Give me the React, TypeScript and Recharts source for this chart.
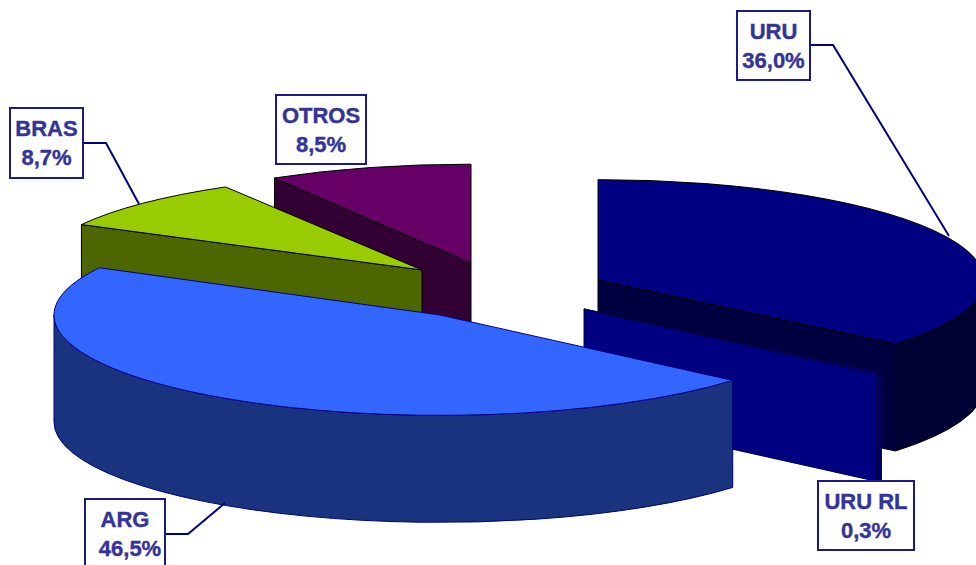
import React from "react";
import { PieChart, Pie } from "recharts";

const categories = ["URU", "URU RL", "ARG", "BRAS", "OTROS"];
const shares = [36.0, 0.3, 46.5, 8.7, 8.5];
const data = categories.map((name, i) => ({ name, value: shares[i] }));

// Back-to-front order in which the tilted slices are painted.
const paintOrder = ["OTROS", "BRAS", "URU", "URU RL", "ARG"];

const CX = 500;
const CY = 290;
const RADIUS = 386;
const DEPTH = 107;

const sliceStyles: Record<string, any> = {
  URU: { dx: 98, dy: -10, tilt: 0.26, top: "#000080", wall: "#000033", face: "#000040", line: "#000000" },
  "URU RL": { dx: 84, dy: 19, tilt: 0.26, top: "#000080", wall: "#000060", face: "#000080", line: "#000040" },
  ARG: { dx: -60, dy: 25, tilt: 0.26, top: "#3366FF", wall: "#19337F", face: "#19337F", line: "#000080" },
  BRAS: { dx: -78, dy: -20, tilt: 0.25, top: "#99CC00", wall: "#4D6600", face: "#4D6600", line: "#000000" },
  OTROS: { dx: -29, dy: -27, tilt: 0.256, top: "#660066", wall: "#330033", face: "#330033", line: "#000000" },
};

const labelStyles: Record<string, any> = {
  URU: { x: 737, y: 11, w: 73, h: 69, shift: 0, leader: "810,45 833,45 949,236" },
  "URU RL": { x: 818, y: 481, w: 96, h: 69, shift: 0, leader: "" },
  ARG: { x: 85, y: 499, w: 80, h: 69, shift: 5, leader: "165,534 188,534 225,503" },
  BRAS: { x: 10, y: 108, w: 73, h: 70, shift: 0, leader: "83,143 106,143 139,204" },
  OTROS: { x: 276, y: 95, w: 90, h: 69, shift: 0, leader: "" },
};

const rad = (d: number) => (d * Math.PI) / 180;

function Slice3D(props: any) {
  const { cx, cy, outerRadius, startAngle, endAngle, name } = props;
  const s = sliceStyles[name];
  const from = 90 - startAngle;
  const to = 90 - endAngle;
  const ox = cx + s.dx;
  const oy = cy + s.dy;
  const ry = outerRadius * s.tilt;
  const pt = (t: number, drop = 0) =>
    `${ox + outerRadius * Math.sin(rad(t))} ${oy - ry * Math.cos(rad(t)) + drop}`;
  const arc = (a: number, b: number, sweep: number, drop = 0) =>
    `A ${outerRadius} ${ry} 0 ${Math.abs(b - a) > 180 ? 1 : 0} ${sweep} ${pt(b, drop)}`;
  const face = (t: number) =>
    `M ${ox} ${oy} L ${pt(t)} L ${pt(t, DEPTH)} L ${ox} ${oy + DEPTH} Z`;

  const wallFrom = Math.max(from, 90);
  const wallTo = Math.min(to, 270);
  return (
    <g stroke={s.line} strokeWidth={1} strokeLinejoin="round">
      {wallFrom < wallTo && (
        <path
          d={`M ${pt(wallFrom)} ${arc(wallFrom, wallTo, 1)} L ${pt(wallTo, DEPTH)} ${arc(wallTo, wallFrom, 0, DEPTH)} Z`}
          fill={s.wall}
        />
      )}
      {Math.sin(rad(from)) < -0.001 && <path d={face(from)} fill={s.face} />}
      {Math.sin(rad(to)) > 0.001 && <path d={face(to)} fill={s.face} />}
      <path d={`M ${ox} ${oy} L ${pt(from)} ${arc(from, to, 1)} Z`} fill={s.top} />
    </g>
  );
}

function Callout(props: any) {
  const { name, value } = props;
  const b = labelStyles[name];
  const mid = b.x + b.w / 2;
  const pct = `${Number(value).toFixed(1).replace(".", ",")}%`;
  const text = {
    textAnchor: "middle" as const,
    fontFamily: "'Liberation Sans', Arial, sans-serif",
    fontWeight: 700,
    fontSize: 22,
    fill: "#333399",
    stroke: "#333399",
    strokeWidth: 0.4,
  };
  return (
    <g>
      {b.leader && <polyline points={b.leader} fill="none" stroke="#000080" strokeWidth={2} />}
      <rect x={b.x} y={b.y} width={b.w} height={b.h} fill="#FFFFFF" stroke="#1A1A8C" strokeWidth={2} />
      <text {...text} x={mid} y={b.y + 28}>{name}</text>
      <text {...text} x={mid + b.shift} y={b.y + 57}>{pct}</text>
    </g>
  );
}

const sliceShape = (layer: string) => (props: any) =>
  props.name === layer ? <Slice3D {...props} /> : <g />;

export default function App() {
  return (
    <div style={{ position: "absolute", left: 0, top: 0, width: 976, height: 565, overflow: "hidden", background: "#FFFFFF" }}>
      <PieChart width={976} height={565} margin={{ top: 0, right: 0, bottom: 0, left: 0 }}>
        {paintOrder.map((layer, i) => (
          <Pie
            key={layer}
            data={data}
            dataKey="value"
            nameKey="name"
            cx={CX}
            cy={CY}
            innerRadius={0}
            outerRadius={RADIUS}
            startAngle={90}
            endAngle={-270}
            stroke="none"
            shape={sliceShape(layer)}
            label={i === paintOrder.length - 1 ? (p: any) => <Callout {...p} /> : false}
            labelLine={false}
            isAnimationActive={false}
          />
        ))}
      </PieChart>
    </div>
  );
}
